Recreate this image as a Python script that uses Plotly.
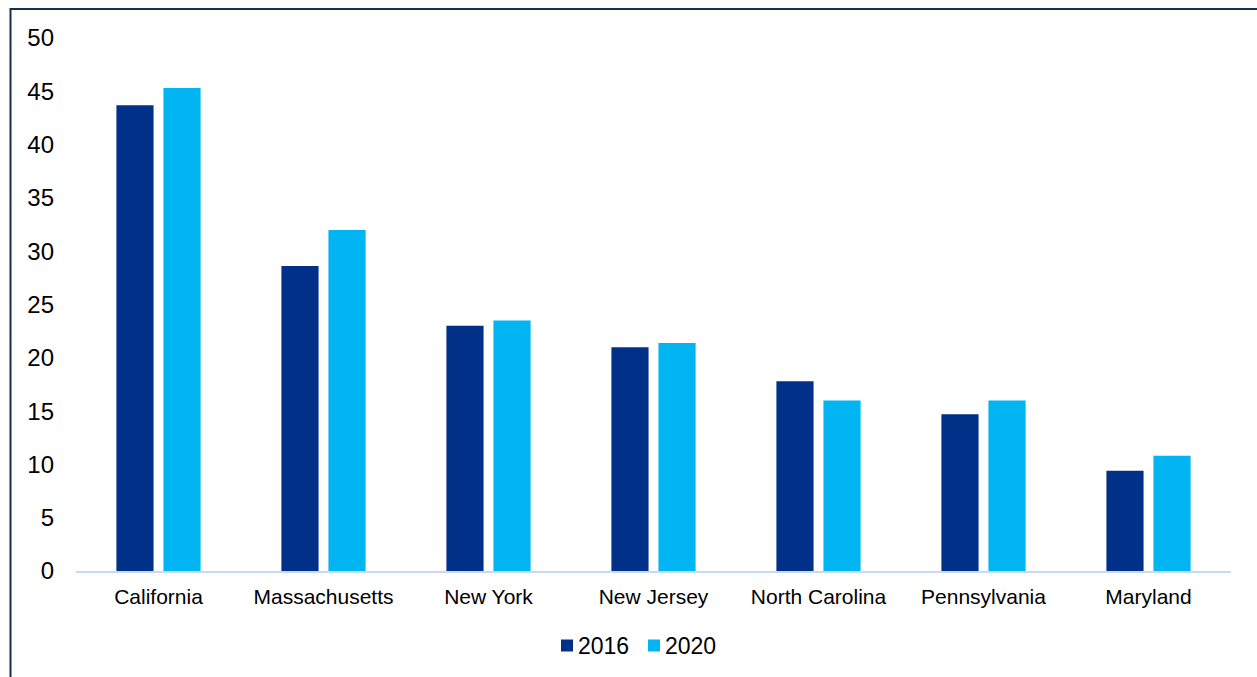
import plotly.graph_objects as go

states = ["California", "Massachusetts", "New York", "New Jersey",
          "North Carolina", "Pennsylvania", "Maryland"]
values_2016 = [43.7, 28.6, 23.0, 21.0, 17.8, 14.7, 9.4]
values_2020 = [45.3, 32.0, 23.5, 21.4, 16.0, 16.0, 10.8]
y_ticks = [0, 5, 10, 15, 20, 25, 30, 35, 40, 45, 50]
series_names = ["2016", "2020"]
series_colors = ["#003087", "#00B5F1"]

W, H = 1257, 677
ML, MR, MT, MB = 76, 26, 38, 106

fig = go.Figure()
for name, vals, col in zip(series_names, [values_2016, values_2020], series_colors):
    fig.add_trace(go.Bar(name=name, x=states, y=vals, marker_color=col,
                         marker_line_width=0))

pw = W - ML - MR
ph = H - MT - MB
def px_x(p):
    return (p - ML) / pw
def px_y(p):
    return 1 - (p - MT) / ph

# outer frame: left and top edges of a box that runs off the page
fig.add_shape(type="rect", xref="paper", yref="paper",
              x0=px_x(10.5), x1=px_x(W + 10), y0=px_y(H + 10), y1=px_y(9),
              line=dict(color="#14304A", width=2), fillcolor="rgba(0,0,0,0)",
              layer="above")

# compact legend below the axis: a 12px square then the series name
legend_left = 561
legend_step = 87
legend_mid = 645.5
for i, (name, col) in enumerate(zip(series_names, series_colors)):
    left = legend_left + i * legend_step
    fig.add_shape(type="rect", xref="paper", yref="paper",
                  x0=px_x(left), x1=px_x(left + 12),
                  y0=px_y(legend_mid + 6), y1=px_y(legend_mid - 6),
                  line_width=0, fillcolor=col)
    fig.add_annotation(xref="paper", yref="paper", x=px_x(left + 15), y=px_y(legend_mid),
                       xanchor="left", yanchor="middle", showarrow=False,
                       text=name, font=dict(size=23, color="#000000"))

fig.update_layout(
    width=W, height=H,
    margin=dict(l=ML, r=MR, t=MT, b=MB),
    paper_bgcolor="white", plot_bgcolor="white",
    barmode="group", bargap=0.43, bargroupgap=0.21,
    font=dict(family="Liberation Sans, Arial, sans-serif", color="#000000"),
    showlegend=False,
    xaxis=dict(showline=True, linecolor="#C6DAF5", linewidth=2, ticks="",
               tickfont=dict(size=21), showgrid=False, zeroline=False,
               ticklabelstandoff=6),
    yaxis=dict(range=[0, 50], tickvals=y_ticks, showgrid=False, zeroline=False,
               showline=False, ticks="", tickfont=dict(size=24), ticklabelstandoff=21),
)

fig.write_html("out.html")
